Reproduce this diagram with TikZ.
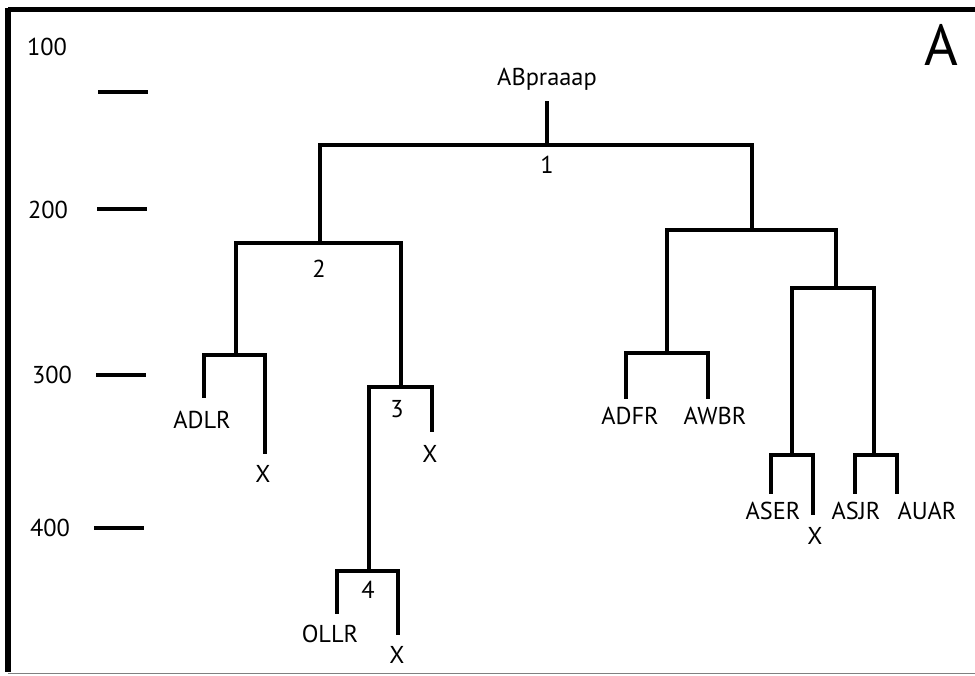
\documentclass[tikz,border=0pt]{standalone}
\usepackage{fontspec}
\setmainfont{PT Sans}
\begin{document}
\begin{tikzpicture}[x=1bp,y=-1bp,
  br/.style={line width=3.8bp,line cap=rect,line join=miter},
  lab/.style={inner sep=0pt,anchor=base,font=\fontsize{24.5}{27}\selectfont},
  tick/.style={line width=3.2bp}]
\useasboundingbox (0,0) rectangle (975,676);
% frame
\draw[line width=5bp] (8,10) -- (975,10);
\draw[line width=6bp] (8,8) -- (8,672);
\draw[gray,line width=1bp] (8,673) -- (975,673);
% scale
\node[lab] (s1) at (47,56) {100};
\node[lab] (s2) at (48,218) {200};
\node[lab] (s3) at (52,383) {300};
\node[lab] (s4) at (50,536) {400};
\coordinate (t1a) at (98,92); \coordinate (t1b) at (148,92);
\coordinate (t2a) at (97,209); \coordinate (t2b) at (147,209);
\coordinate (t3a) at (96,375); \coordinate (t3b) at (146,375);
\coordinate (t4a) at (94,528); \coordinate (t4b) at (144,528);
\draw[tick] (t1a) -- (t1b);
\draw[tick] (t2a) -- (t2b);
\draw[tick] (t3a) -- (t3b);
\draw[tick] (t4a) -- (t4b);
\node[inner sep=0pt,anchor=base,font=\fontsize{58}{62}\selectfont] (A) at (941,66) {A};
% root
\node[lab] (root) at (547,86) {ABpraaap};
\coordinate (r0) at (547,103);
\coordinate (n1) at (547,145);
\coordinate (n1L) at (320,145); \coordinate (n1R) at (752,145);
\draw[br] (r0) -- (n1);
\draw[br] (n1L) -- (n1R);
\node[lab] (l1) at (547,174) {1};
% node 2
\coordinate (n2) at (320,243);
\coordinate (n2L) at (236,243); \coordinate (n2R) at (401,243);
\draw[br] (n1L) -- (n2);
\draw[br] (n2L) -- (n2R);
\node[lab] (l2) at (319,277) {2};
% ADLR / X
\coordinate (a1) at (236,355);
\coordinate (a1L) at (204,355); \coordinate (a1R) at (265,355);
\coordinate (a1Le) at (204,396); \coordinate (a1Re) at (265,452);
\draw[br] (n2L) -- (a1);
\draw[br] (a1Le) -- (a1L) -- (a1R) -- (a1Re);
\node[lab] (adlr) at (202,428) {ADLR};
\node[lab] (x1) at (263,482) {X};
% node 3
\coordinate (n3) at (401,387);
\coordinate (n3L) at (369,387); \coordinate (n3R) at (432,387);
\coordinate (n3Re) at (432,430);
\draw[br] (n2R) -- (n3);
\draw[br] (n3L) -- (n3R) -- (n3Re);
\node[lab] (l3) at (397,417) {3};
\node[lab] (x2) at (430,462) {X};
% node 4
\coordinate (n4) at (369,571);
\coordinate (n4L) at (337,571); \coordinate (n4R) at (398,571);
\coordinate (n4Le) at (337,612); \coordinate (n4Re) at (398,633);
\draw[br] (n3L) -- (n4);
\draw[br] (n4Le) -- (n4L) -- (n4R) -- (n4Re);
\node[lab] (l4) at (368,598) {4};
\node[lab] (ollr) at (330,642) {OLLR};
\node[lab] (x3) at (397,663) {X};
% right clade
\coordinate (n5) at (752,230);
\coordinate (n5L) at (667,230); \coordinate (n5R) at (836,230);
\draw[br] (n1R) -- (n5);
\draw[br] (n5L) -- (n5R);
% ADFR AWBR
\coordinate (n6) at (667,353);
\coordinate (n6L) at (626,353); \coordinate (n6R) at (708,353);
\coordinate (n6Le) at (626,397); \coordinate (n6Re) at (708,397);
\draw[br] (n5L) -- (n6);
\draw[br] (n6Le) -- (n6L) -- (n6R) -- (n6Re);
\node[lab] (adfr) at (630,424) {ADFR};
\node[lab] (awbr) at (715,424) {AWBR};
% node 7
\coordinate (n7) at (836,288);
\coordinate (n7L) at (792,288); \coordinate (n7R) at (874,288);
\draw[br] (n5R) -- (n7);
\draw[br] (n7L) -- (n7R);
% ASER X
\coordinate (n8) at (792,455);
\coordinate (n8L) at (771,455); \coordinate (n8R) at (813,455);
\coordinate (n8Le) at (771,492); \coordinate (n8Re) at (813,513);
\draw[br] (n7L) -- (n8);
\draw[br] (n8Le) -- (n8L) -- (n8R) -- (n8Re);
\node[lab] (aser) at (773,519) {ASER};
\node[lab] (x4) at (815,544) {X};
% ASJR AUAR
\coordinate (n9) at (874,455);
\coordinate (n9L) at (855,455); \coordinate (n9R) at (897,455);
\coordinate (n9Le) at (855,492); \coordinate (n9Re) at (897,492);
\draw[br] (n7R) -- (n9);
\draw[br] (n9Le) -- (n9L) -- (n9R) -- (n9Re);
\node[lab] (asjr) at (856,519) {ASJR};
\node[lab] (auar) at (927,519) {AUAR};
\end{tikzpicture}
\end{document}
